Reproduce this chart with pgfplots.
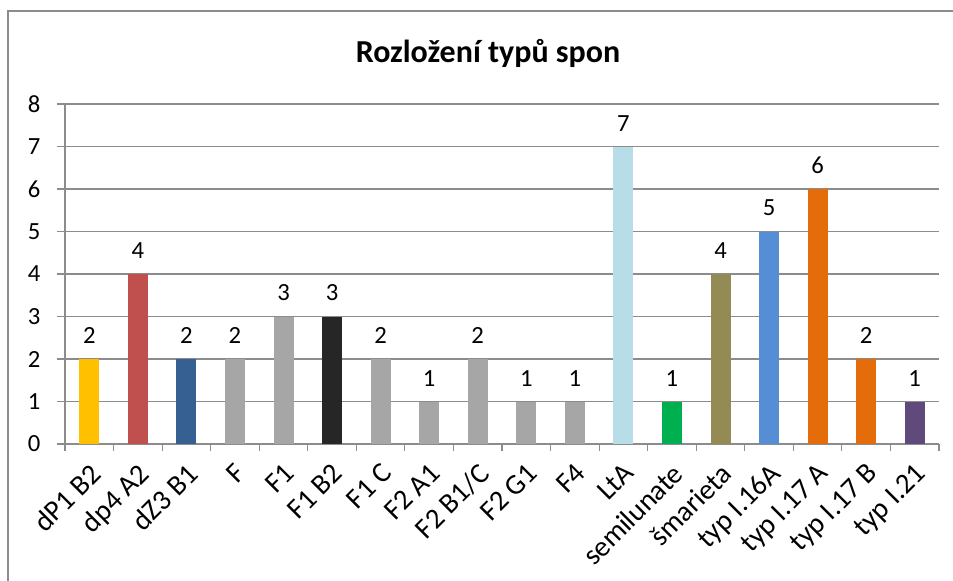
\documentclass[border=0pt]{standalone}
\usepackage{pgfplots}
\pgfplotsset{compat=1.18}
\usepackage{fontspec}
\setmainfont{Carlito}
\definecolor{cGold}{HTML}{FFC000}
\definecolor{cRed}{HTML}{C0504D}
\definecolor{cDBlue}{HTML}{376092}
\definecolor{cGray}{HTML}{A6A6A6}
\definecolor{cBlack}{HTML}{262626}
\definecolor{cLBlue}{HTML}{B7DEE8}
\definecolor{cGreen}{HTML}{00B050}
\definecolor{cOlive}{HTML}{948A54}
\definecolor{cBlue}{HTML}{558ED5}
\definecolor{cOrange}{HTML}{E46C0A}
\definecolor{cPurple}{HTML}{604A7B}
\definecolor{cLine}{HTML}{8C8C8C}
\begin{document}
\begin{tikzpicture}
\useasboundingbox (0,0) rectangle (714.75pt,-435.75pt);
\draw[cLine, line width=0.9pt] (6pt,-435.75pt) -- (6pt,-8.25pt) -- (714.75pt,-8.25pt);
\node[font=\fontsize{24}{28}\selectfont\bfseries] at (366pt,-39.75pt) {Rozložení typů spon};
\begin{axis}[
  at={(48.75pt,-333pt)}, anchor=south west,
  scale only axis, width=655.5pt, height=255pt,
  xmin=-0.5, xmax=17.5, ymin=0, ymax=8,
  axis lines*=left,
  axis line style={cLine, line width=0.9pt},
  ytick={0,...,8},
  ymajorgrids, grid style={cLine, line width=0.9pt},
  xtick={0,...,17},
  xticklabels={dP1 B2, dp4 A2, dZ3 B1, F, F1, F1 B2, F1 C, F2 A1, F2 B1/C, F2 G1, F4, LtA, semilunate, šmarieta, typ I.16A, typ I.17 A, typ I.17 B, typ I.21},
  minor xtick={-0.5,0.5,...,17.5},
  tick align=outside,
  major tick length=6pt,
  minor tick length=5pt,
  x tick style={draw=none},
  minor x tick style={draw=cLine, line width=0.9pt},
  y tick style={cLine, line width=0.9pt},
  yticklabel style={font=\fontsize{18.5}{21}\selectfont, xshift=-9pt},
  x tick label style={font=\fontsize{21.5}{25}\selectfont, rotate=45, anchor=north east, inner sep=1pt, xshift=-1pt},
  xticklabel shift=5pt,
  /pgf/number format/assume math mode=true,
  ybar, bar width=15pt, bar shift=0pt,
  nodes near coords,
  every node near coord/.append style={font=\fontsize{18.5}{21}\selectfont, text=black, yshift=8pt},
  clip=false,
]
\addplot[fill=cGold, draw=none] coordinates {(0,2)};
\addplot[fill=cRed, draw=none] coordinates {(1,4)};
\addplot[fill=cDBlue, draw=none] coordinates {(2,2)};
\addplot[fill=cGray, draw=none] coordinates {(3,2)};
\addplot[fill=cGray, draw=none] coordinates {(4,3)};
\addplot[fill=cBlack, draw=none] coordinates {(5,3)};
\addplot[fill=cGray, draw=none] coordinates {(6,2)};
\addplot[fill=cGray, draw=none] coordinates {(7,1)};
\addplot[fill=cGray, draw=none] coordinates {(8,2)};
\addplot[fill=cGray, draw=none] coordinates {(9,1)};
\addplot[fill=cGray, draw=none] coordinates {(10,1)};
\addplot[fill=cLBlue, draw=none] coordinates {(11,7)};
\addplot[fill=cGreen, draw=none] coordinates {(12,1)};
\addplot[fill=cOlive, draw=none] coordinates {(13,4)};
\addplot[fill=cBlue, draw=none] coordinates {(14,5)};
\addplot[fill=cOrange, draw=none] coordinates {(15,6)};
\addplot[fill=cOrange, draw=none] coordinates {(16,2)};
\addplot[fill=cPurple, draw=none] coordinates {(17,1)};
\end{axis}
\end{tikzpicture}
\end{document}
